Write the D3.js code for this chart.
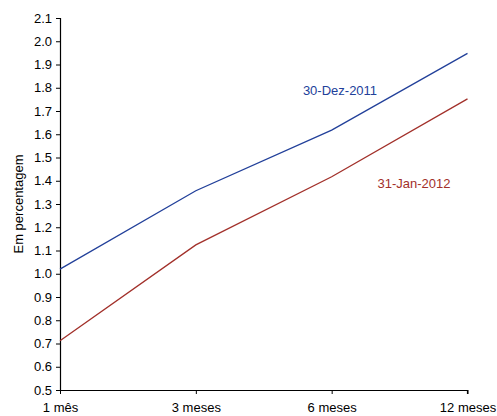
<!DOCTYPE html>
<html><head><meta charset="utf-8">
<script src="https://cdn.jsdelivr.net/npm/d3@7"></script>
<style>
body{margin:0;background:#fff;}
text{font-family:"Liberation Sans",Arial,sans-serif;}
</style></head>
<body><svg id="c" width="497" height="416"></svg>
<script>
const categories = ["1 mês", "3 meses", "6 meses", "12 meses"];
const seriesNames = ["30-Dez-2011", "31-Jan-2012"];
const dez2011 = [1.02, 1.357, 1.618, 1.948];
const jan2012 = [0.712, 1.124, 1.417, 1.752];
const yTicks = [0.5,0.6,0.7,0.8,0.9,1.0,1.1,1.2,1.3,1.4,1.5,1.6,1.7,1.8,1.9,2.0,2.1];
const colors = ["#22409a", "#a2302a"];

const svg = d3.select("#c");
const x = d3.scalePoint().domain(categories).range([60, 467.5]);
const y = d3.scaleLinear().domain([0.5, 2.1]).range([390, 18]);

const yAxis = d3.axisLeft(y).tickValues(yTicks).tickFormat(d3.format(".1f")).tickSize(4).tickPadding(4);
const gy = svg.append("g").attr("transform","translate(60,0)").call(yAxis);
const xAxis = d3.axisBottom(x).tickSize(4).tickPadding(9);
const gx = svg.append("g").attr("transform","translate(0,390)").call(xAxis);
[gy,gx].forEach(g=>{
  g.select(".domain").attr("stroke","#000").attr("stroke-width",1.2);
  g.selectAll(".tick line").attr("stroke","#000");
  g.selectAll("text").attr("font-size",13).attr("fill","#000").attr("font-family","'Liberation Sans',Arial,sans-serif");
});
gx.select(".domain").attr("d","M60,0.5H467.5V4");
gy.select(".domain").attr("d","M-4,18.5H0.5V390");

const line = d3.line().x((d,i)=>x(categories[i])).y(d=>y(d));
[dez2011, jan2012].forEach((s,k)=>{
  svg.append("path").datum(s).attr("d",line).attr("fill","none")
    .attr("stroke",colors[k]).attr("stroke-width",1.3);
});

svg.append("text").attr("x",340).attr("y",95).attr("text-anchor","middle")
  .attr("font-size",13).attr("fill",colors[0]).text(seriesNames[0]);
svg.append("text").attr("x",414).attr("y",188).attr("text-anchor","middle")
  .attr("font-size",13).attr("fill",colors[1]).text(seriesNames[1]);

svg.append("text").attr("transform","translate(23,204) rotate(-90)").attr("text-anchor","middle")
  .attr("font-size",13).attr("fill","#000").text("Em percentagem");
</script></body></html>
